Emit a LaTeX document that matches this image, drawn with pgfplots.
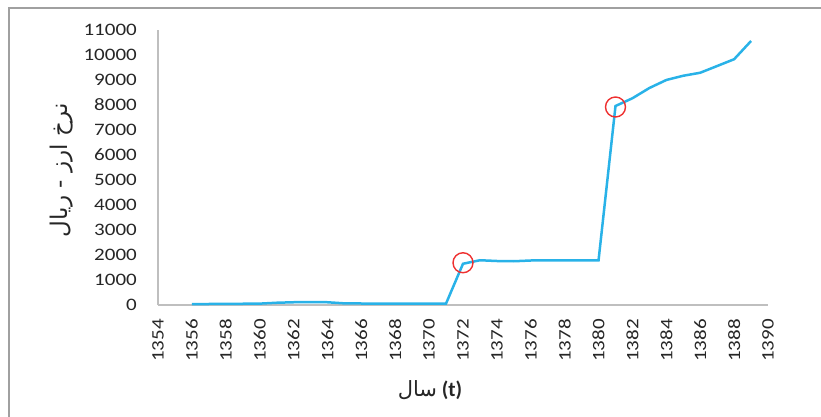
\documentclass[border=0pt]{standalone}
\usepackage{fontspec}
\setmainfont{Carlito}
\newfontfamily\arabicfont[Script=Arabic]{DejaVu Sans}
\TeXXeTstate=1
\usepackage{pgfplots}
\pgfplotsset{compat=1.18}
\definecolor{lineblue}{RGB}{41,178,232}
\definecolor{axgrey}{RGB}{191,191,191}
\definecolor{framegrey}{RGB}{160,160,160}
\definecolor{circred}{RGB}{238,48,48}
\begin{document}
\begin{tikzpicture}
\path[use as bounding box] (-158bp,-112bp) rectangle (663bp,305bp);
\draw[framegrey, line width=1.3bp] (-149bp,-112bp) -- (-149bp,297bp) -- (663bp,297bp);
\begin{axis}[
  at={(0bp,0bp)}, anchor=south west,
  scale only axis, width=610bp, height=275bp,
  xmin=1354, xmax=1390, ymin=0, ymax=11000,
  axis x line=bottom, axis y line=left,
  axis line style={-, draw=axgrey, line width=1.5bp},
  xtick={1354,1356,...,1390},
  ytick={0,1000,...,11000},
  scaled y ticks=false, scaled x ticks=false,
  major tick length=0pt,
  tick style={draw=none},
  /pgf/number format/1000 sep={},
  /pgf/number format/assume math mode=true,
  ticklabel style={font=\fontsize{17.5bp}{19bp}\selectfont, inner sep=0pt, text=black!85},
  xticklabel={\scalebox{1.2}[1]{\pgfmathprintnumber[fixed,precision=0]{\tick}}},
  yticklabel={\scalebox{1.2}[1]{\pgfmathprintnumber[fixed,precision=0]{\tick}}},
  x tick label style={rotate=90, anchor=east},
  xticklabel shift=14bp,
  yticklabel shift=21bp,
  clip=false,
]
\addplot[lineblue, line width=2.5bp, no marks] coordinates {
(1356,40) (1357,40) (1358,45) (1359,50) (1360,55) (1361,90) (1362,110) (1363,115)
(1364,110) (1365,65) (1366,60) (1367,60) (1368,60) (1369,60) (1370,60) (1371,60)
(1372,1650) (1373,1790) (1374,1760) (1375,1750) (1376,1780) (1377,1790) (1378,1790)
(1379,1790) (1380,1790) (1381,7960) (1382,8270) (1383,8680) (1384,9000) (1385,9170)
(1386,9290) (1387,9560) (1388,9830) (1389,10560)
};
\addplot[only marks, mark=o, mark size=10bp, mark options={draw=circred, line width=1.4bp}] coordinates {
(1372,1690) (1381,7920)
};
\end{axis}
\node[rotate=90, font=\arabicfont\fontsize{23bp}{26bp}\selectfont, text=black!85] at (-96bp,135bp) {\beginR نرخ ارز - ریال\endR};
\node[font=\fontsize{21bp}{24bp}\selectfont, text=black!85] at (272bp,-85bp) {{\arabicfont\beginR سال\endR} \textbf{(t)}};
\end{tikzpicture}
\end{document}
